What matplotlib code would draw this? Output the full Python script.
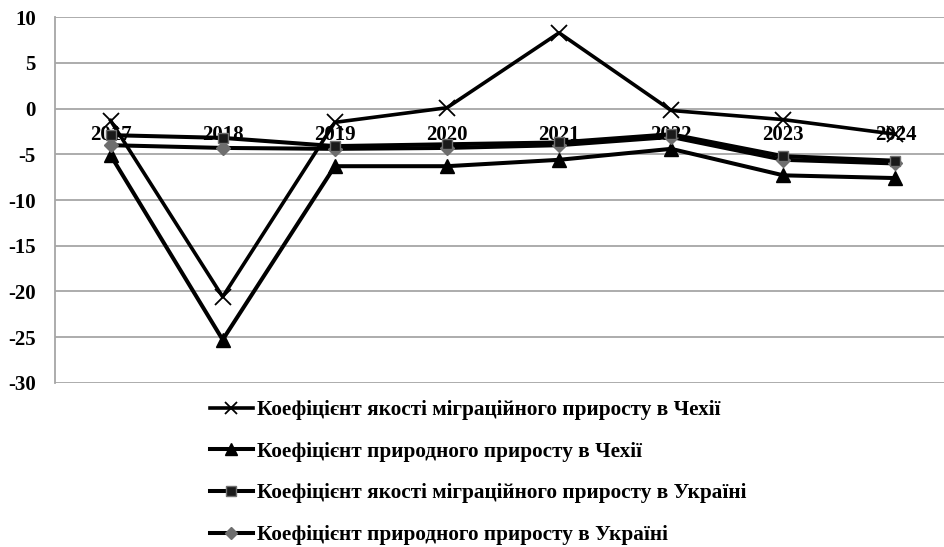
import matplotlib
matplotlib.use("Agg")
import matplotlib.pyplot as plt
from matplotlib.lines import Line2D

years = ["2017", "2018", "2019", "2020", "2021", "2022", "2023", "2024"]
cz_migr = [-1.3, -20.6, -1.5, 0.1, 8.3, -0.2, -1.2, -2.8]
cz_nat = [-5.1, -25.3, -6.3, -6.3, -5.6, -4.4, -7.3, -7.6]
ua_migr = [-2.9, -3.2, -4.1, -3.9, -3.7, -2.8, -5.2, -5.7]
ua_nat = [-4.0, -4.3, -4.4, -4.3, -4.0, -3.1, -5.6, -6.0]
labels = [
    "Коефіцієнт якості міграційного приросту в Чехії",
    "Коефіцієнт природного приросту в Чехії",
    "Коефіцієнт якості міграційного приросту в Україні",
    "Коефіцієнт природного приросту в Україні",
]
yticks = [10, 5, 0, -5, -10, -15, -20, -25, -30]

FONT = "Liberation Serif"
W, H = 944, 547
fig = plt.figure(figsize=(W / 100, H / 100), dpi=100)
left = 54.5 / W
right = 951.5 / W
top = 1 - 17.3 / H
bottom = 1 - 382.7 / H
ax = fig.add_axes([left, bottom, right - left, top - bottom])

ax.spines["bottom"].set_position(("data", 0))
ax.spines["bottom"].set_visible(False)
ax.spines["top"].set_visible(False)
ax.spines["right"].set_visible(False)

x = list(range(len(years)))
grid_c = "#a6a6a6"
for v in yticks:
    ax.axhline(v, color=grid_c, lw=1.3, zorder=1)

ax.plot(x, cz_migr, color="black", lw=2.6, marker="x", ms=11, mew=1.3,
        zorder=3, label=labels[0])
ax.plot(x, cz_nat, color="black", lw=2.9, marker="^", ms=10.5,
        mfc="black", mec="black", zorder=3, label=labels[1])
ax.plot(x, ua_nat, color="black", lw=2.9, marker="D", ms=7,
        mfc="#6e6e6e", mec="#6e6e6e", zorder=3, label=labels[3])
ax.plot(x, ua_migr, color="black", lw=2.9, marker="s", ms=7.5,
        mfc="#1a1a1a", mec="#707070", mew=1.0, zorder=4, label=labels[2])

ax.set_xlim(-0.5, len(years) - 0.5)
ax.set_ylim(-30, 10)
ax.set_yticks(yticks)
ax.set_yticklabels([str(v) for v in yticks], fontfamily=FONT,
                   fontweight="bold", fontsize=15)
ax.set_xticks(x)
ax.set_xticklabels(years, fontfamily=FONT, fontweight="bold", fontsize=15)
ax.tick_params(axis="y", length=0, pad=13.5)
ax.tick_params(axis="x", length=0, pad=12)
ax.spines["left"].set_color(grid_c)
ax.spines["left"].set_linewidth(1.3)
for t in ax.get_xticklabels():
    t.set_zorder(2)

handles = [
    Line2D([], [], color="black", lw=2.6, marker="x", ms=9, mew=1.3),
    Line2D([], [], color="black", lw=2.9, marker="^", ms=9, mfc="black"),
    Line2D([], [], color="black", lw=2.9, marker="s", ms=6.5, mfc="#1a1a1a", mec="#707070"),
    Line2D([], [], color="black", lw=2.9, marker="D", ms=6, mfc="#6e6e6e", mec="#6e6e6e"),
]
leg = fig.legend(handles, [labels[0], labels[1], labels[2], labels[3]],
                 loc="upper left", bbox_to_anchor=(210 / W, 1 - 400 / H),
                 frameon=False, handlelength=2.02, handletextpad=0.2,
                 labelspacing=1.02, borderaxespad=0, borderpad=0,
                 prop={"family": FONT, "weight": "bold", "size": 15.3})

fig.savefig("out.png", dpi=100)
